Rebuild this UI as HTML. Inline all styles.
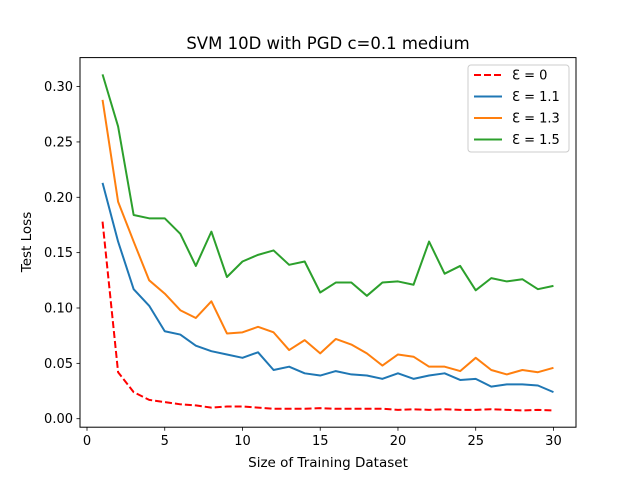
<!DOCTYPE html>
<html><head><meta charset="utf-8"><style>
body{margin:0;background:#fff;}
svg{display:block;font-family:"DejaVu Sans","Liberation Sans",sans-serif;}
</style></head><body>
<svg id="chart" width="640" height="480">
<rect width="640" height="480" fill="#fff"/>
<text x="328" y="49" font-size="16.5" text-anchor="middle">SVM 10D with PGD c=0.1 medium</text>
<text x="328" y="467" font-size="13.5" text-anchor="middle">Size of Training Dataset</text>
<text transform="translate(31,242) rotate(-90)" font-size="13.5" text-anchor="middle">Test Loss</text>
<g id="axes"></g>
<g id="series"></g>
<rect x="80" y="57.6" width="496" height="369.6" fill="none" stroke="#000" stroke-width="1"/>
<g id="legend"></g>
</svg>
<script>
const xs = Array.from({length:30},(_,i)=>i+1);
const xTicks = [0,5,10,15,20,25,30];
const yTicks = [0,0.05,0.10,0.15,0.20,0.25,0.30];
const yTickLabels = ["0.00","0.05","0.10","0.15","0.20","0.25","0.30"];
const seriesNames = ["Ɛ = 0","Ɛ = 1.1","Ɛ = 1.3","Ɛ = 1.5"];
const eps0 = [0.178,0.042,0.024,0.017,0.015,0.013,0.012,0.010,0.011,0.011,0.010,0.009,0.009,0.009,0.0095,0.009,0.009,0.009,0.009,0.008,0.0085,0.008,0.0085,0.008,0.008,0.0085,0.008,0.0075,0.008,0.0075];
const eps11 = [0.213,0.160,0.117,0.102,0.079,0.076,0.066,0.061,0.058,0.055,0.060,0.044,0.047,0.041,0.039,0.043,0.040,0.039,0.036,0.041,0.036,0.039,0.041,0.035,0.036,0.029,0.031,0.031,0.030,0.024];
const eps13 = [0.288,0.196,0.160,0.125,0.113,0.098,0.091,0.106,0.077,0.078,0.083,0.078,0.062,0.071,0.059,0.072,0.067,0.059,0.048,0.058,0.056,0.047,0.047,0.043,0.055,0.044,0.040,0.044,0.042,0.046];
const eps15 = [0.311,0.264,0.184,0.181,0.181,0.167,0.138,0.169,0.128,0.142,0.148,0.152,0.139,0.142,0.114,0.123,0.123,0.111,0.123,0.124,0.121,0.160,0.131,0.138,0.116,0.127,0.124,0.126,0.117,0.120];
const colors = ["#ff0000","#1f77b4","#ff7f0e","#2ca02c"];
const NS="http://www.w3.org/2000/svg";
const L=80,R=576,T=57.6,B=427.2;
const all=[...eps0,...eps11,...eps13,...eps15];
const ymin0=Math.min(...all), ymax0=Math.max(...all), ym=(ymax0-ymin0)*0.05;
const yLo=ymin0-ym, yHi=ymax0+ym;
const xLo=1-29*0.05, xHi=30+29*0.05;
const sx=v=>L+(v-xLo)/(xHi-xLo)*(R-L);
const sy=v=>B-(v-yLo)/(yHi-yLo)*(B-T);
function mk(tag,attrs,parent){const e=document.createElementNS(NS,tag);for(const k in attrs)e.setAttribute(k,attrs[k]);parent.appendChild(e);return e;}
const ax=document.getElementById('axes');
xTicks.forEach(t=>{
  const g=mk('g',{},ax);
  
  
  mk('line',{x1:sx(t),x2:sx(t),y1:B,y2:B+3.5,stroke:'#000','stroke-width':0.8},g);
  const tx=mk('text',{x:sx(t),y:B+18,'font-size':13,'text-anchor':'middle'},g);tx.textContent=t;
});
yTicks.forEach((t,i)=>{
  const g=mk('g',{},ax);
  
  
  mk('line',{x1:L-3.5,x2:L,y1:sy(t),y2:sy(t),stroke:'#000','stroke-width':0.8},g);
  const tx=mk('text',{x:L-7,y:sy(t)+4.5,'font-size':13,'text-anchor':'end'},g);tx.textContent=yTickLabels[i];
});
const data=[eps0,eps11,eps13,eps15];
const sg=document.getElementById('series');
const names=['line-eps-0','line-eps-1-1','line-eps-1-3','line-eps-1-5'];
data.forEach((d,i)=>{
  const p=mk('polyline',{points:d.map((v,j)=>sx(xs[j])+','+sy(v)).join(' '),fill:'none',stroke:colors[i],'stroke-width':2,'stroke-linejoin':'round'},sg);
  if(i===0)p.setAttribute('stroke-dasharray','7,3');
  
  
});
const lg=document.getElementById('legend');
const box=mk('rect',{x:468,y:65,width:101,height:87,fill:'#fff',stroke:'#ccc',rx:3},lg);


seriesNames.forEach((n,i)=>{
  const y=75+i*21.5;
  const g=mk('g',{},lg);
  
  
  const ln=mk('line',{x1:474,x2:502,y1:y,y2:y,stroke:colors[i],'stroke-width':2},g);
  if(i===0)ln.setAttribute('stroke-dasharray','7,3');
  const tx=mk('text',{x:512,y:y+4.5,'font-size':13},g);tx.textContent=n;
});
</script>
</body></html>
